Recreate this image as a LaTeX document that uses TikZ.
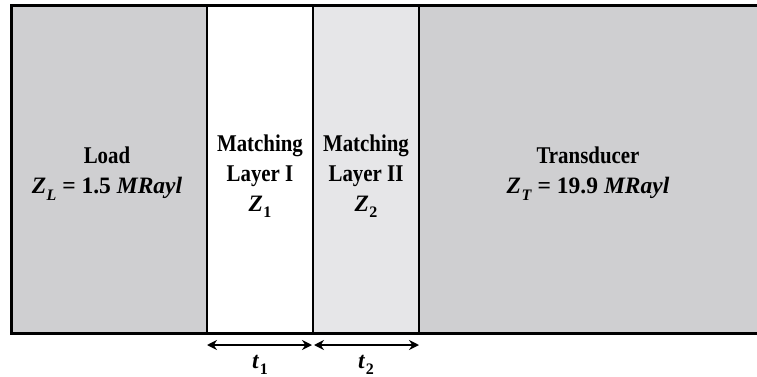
\documentclass[tikz,border=0pt]{standalone}
\usepackage{fontspec}
\setmainfont{Liberation Serif}[FakeStretch=0.87]
\newfontfamily\symfont{Liberation Serif}
\usetikzlibrary{arrows.meta, positioning}
\definecolor{loadgray}{RGB}{207,207,209}
\definecolor{layergray}{RGB}{230,230,232}
\newcommand{\sym}[2]{{\symfont\fontsize{23.5}{30}\selectfont\textit{#1}\kern0.5pt\raisebox{-0.28em}{\fontsize{16}{16}\selectfont #2}}}
\newcommand{\val}[1]{{\symfont\fontsize{23.5}{30}\selectfont\ =\ #1 \textit{MRayl}}}

\begin{document}
\begin{tikzpicture}[x=1pt,y=-1pt]
            \tikzset{lbl/.style = {align=center, font=\bfseries\fontsize{24}{30}\selectfont},
                     dim/.style = {{Stealth[length=10pt,width=10pt]}-{Stealth[length=10pt,width=10pt]}, line width=2.6pt}}
            \useasboundingbox (0,0) rectangle (757,377);
            % layers
            \fill[loadgray] (11,6) rectangle (207,333);
            \fill[white] (207,6) rectangle (313,333);
            \fill[layergray] (313,6) rectangle (419,333);
            \fill[loadgray] (419,6) rectangle (760,333);
            % borders
            \draw[line width=3pt] (760,6) -- (11,6) -- (11,333) -- (760,333);
            \coordinate (d1) at (207,333);
            \coordinate (d2) at (313,333);
            \coordinate (d3) at (419,333);
            \draw[line width=2.2pt] (207,6) -- (d1);
            \draw[line width=2.2pt] (313,6) -- (d2);
            \draw[line width=2.2pt] (419,6) -- (d3);
            % labels
            \node[lbl] (load) at (107,173.5) {Load\\\sym{Z}{\textit{L}}\val{1.5}};
            \node[lbl] (ml1) at (260,176) {Matching\\Layer I\\\sym{Z}{1}};
            \node[lbl] (ml2) at (366,176) {Matching\\Layer II\\\sym{Z}{2}};
            \node[lbl] (trans) at (588,173.5) {Transducer\\\sym{Z}{\textit{T}}\val{19.9}};
            % thicknesses
            \coordinate (a1) at (207,345);
            \coordinate (a2) at (312,345);
            \coordinate (a3) at (314,345);
            \coordinate (a4) at (419,345);
            \draw[dim] (a1) to (a2);
            \draw[dim] (a3) to (a4);
            \node[lbl] (t1) at (260,365) {\sym{t}{1}};
            \node[lbl] (t2) at (366,365) {\sym{t}{2}};
\end{tikzpicture}
\end{document}
